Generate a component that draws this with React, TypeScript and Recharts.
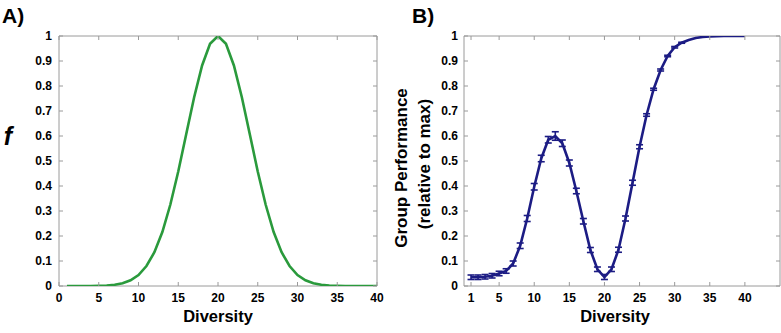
import React from "react";
import { LineChart, Line, XAxis, YAxis, ErrorBar, ReferenceArea } from "recharts";

// x positions shared by both panels
const diversity = [
  1, 2, 3, 4, 5, 6, 7, 8, 9, 10, 11, 12, 13, 14, 15, 16, 17, 18, 19, 20,
  21, 22, 23, 24, 25, 26, 27, 28, 29, 30, 31, 32, 33, 34, 35, 36, 37, 38, 39, 40,
];

// panel A: f vs diversity
const fValues = [
  0, 0, 0, 0, 0.001, 0.002, 0.005, 0.011, 0.023, 0.044, 0.08, 0.135, 0.216, 0.325,
  0.458, 0.607, 0.755, 0.882, 0.969, 1, 0.969, 0.882, 0.755, 0.607, 0.458, 0.325,
  0.216, 0.135, 0.08, 0.044, 0.023, 0.011, 0.005, 0.002, 0.001, 0, 0, 0, 0, 0,
];

// panel B: group performance (relative to max) with error bars
const performance = [
  0.035, 0.035, 0.037, 0.041, 0.05, 0.06, 0.09, 0.161, 0.27, 0.397, 0.51, 0.585,
  0.6, 0.571, 0.492, 0.38, 0.259, 0.144, 0.067, 0.036, 0.067, 0.145, 0.27, 0.413,
  0.557, 0.684, 0.787, 0.864, 0.92, 0.955, 0.973, 0.984, 0.992, 0.996, 0.998,
  0.999, 1, 1, 1, 1,
];
const performanceErr = [
  0.009, 0.009, 0.009, 0.009, 0.009, 0.009, 0.01, 0.011, 0.012, 0.013, 0.013, 0.013,
  0.017, 0.013, 0.012, 0.011, 0.011, 0.01, 0.009, 0.01, 0.009, 0.01, 0.01,
  0.01, 0.008, 0.005, 0.004, 0.004, 0.003, 0.003, 0.002, null, null, null, null,
  null, null, null, null, null,
];

const xTicksA = [0, 5, 10, 15, 20, 25, 30, 35, 40];
const xTicksB = [1, 5, 10, 15, 20, 25, 30, 35, 40];
const yTicks = [0, 0.1, 0.2, 0.3, 0.4, 0.5, 0.6, 0.7, 0.8, 0.9, 1];

const dataA = diversity.map((d, i) => ({ d, f: fValues[i] }));
const dataB = diversity.map((d, i) => ({
  d,
  p: performance[i],
  err: performanceErr[i],
}));

const FONT = '"Liberation Sans", Arial, Helvetica, sans-serif';
const GREEN = "#2a9a3c";
const NAVY = "#1c1c84";
const FRAME = "#9a9a9a";

const tickStyle = { fontSize: 12, fontWeight: 700, fill: "#000", fontFamily: FONT };
const fmt = (v: number) => String(Math.round(v * 10) / 10);
const noTickText = () => <g />;

const panelLetter = (txt: string, x: number) => (
  <text x={x} y={23} fontSize={21} fontWeight={700} fontFamily={FONT} fill="#000">
    {txt}
  </text>
);

const diversityLabel = (cx: number) => () => (
  <text
    x={cx}
    y={322}
    textAnchor="middle"
    fontSize={16.5}
    fontWeight={700}
    fontFamily={FONT}
    fill="#000"
  >
    Diversity
  </text>
);

const fLabel = () => (
  <g>
    {panelLetter("A)", 2)}
    <text
      x={8}
      y={145}
      textAnchor="middle"
      fontSize={25}
      fontWeight={700}
      fontStyle="italic"
      fontFamily={FONT}
      fill="#000"
    >
      f
    </text>
  </g>
);

const perfLabel = () => (
  <g fontFamily={FONT} fontWeight={700} fontSize={17} fill="#000">
    {panelLetter("B)", 22)}
    <text x={17} y={168} textAnchor="middle" transform="rotate(-90, 17, 168)">
      Group Performance
    </text>
    <text x={40} y={164} textAnchor="middle" transform="rotate(-90, 40, 164)">
      (relative to max)
    </text>
  </g>
);

// top and right axes only carry the inward tick marks (negative tickSize)
function frameAxes(xDomain: [number, number], xTicks: number[]) {
  const common = {
    tick: noTickText,
    tickSize: -4,
    tickLine: { stroke: FRAME },
    axisLine: false,
    interval: 0 as const,
    allowDataOverflow: true,
  };
  return [
    <XAxis key="xt" xAxisId="xt" orientation="top" dataKey="d" type="number" domain={xDomain} ticks={xTicks} height={1} {...common} />,
    <YAxis key="yr" yAxisId="yr" orientation="right" type="number" domain={[0, 1]} ticks={yTicks} width={1} {...common} />,
  ];
}

export default function App() {
  return (
    <div
      style={{
        position: "absolute",
        left: 0,
        top: 0,
        width: 781,
        height: 333,
        background: "#fff",
      }}
    >
      <div style={{ position: "absolute", left: 0, top: 0 }}>
        <LineChart width={390} height={333} data={dataA} margin={{ top: 35, right: 12, bottom: 17, left: 0 }}>
          <XAxis
            dataKey="d"
            type="number"
            domain={[0, 40]}
            ticks={xTicksA}
            interval={0}
            axisLine={false}
            tickLine={{ stroke: FRAME }}
            tickSize={-4}
            tickMargin={11}
            height={30}
            tick={tickStyle}
            allowDataOverflow
            label={diversityLabel(218)}
          />
          <YAxis
            type="number"
            domain={[0, 1]}
            ticks={yTicks}
            interval={0}
            axisLine={false}
            tickLine={{ stroke: FRAME }}
            tickSize={-4}
            tickMargin={11}
            width={59}
            tick={tickStyle}
            tickFormatter={fmt}
            allowDataOverflow
            label={fLabel}
          />
          {frameAxes([0, 40], xTicksA)}
          <ReferenceArea x1={0} x2={40} y1={0} y2={1} fill="none" fillOpacity={0} stroke={FRAME} strokeWidth={1} />
          <Line
            xAxisId="xt"
            yAxisId="yr"
            dataKey="f"
            stroke="none"
            strokeOpacity={0}
            dot={false}
            activeDot={false}
            isAnimationActive={false}
          />
          <Line
            dataKey="f"
            type="linear"
            stroke={GREEN}
            strokeWidth={2.6}
            dot={false}
            isAnimationActive={false}
          />
        </LineChart>
      </div>

      <div style={{ position: "absolute", left: 390, top: 0 }}>
        <LineChart width={391} height={333} data={dataB} margin={{ top: 35, right: 0, bottom: 17, left: 0 }}>
          <XAxis
            dataKey="d"
            type="number"
            domain={[0, 45]}
            ticks={xTicksB}
            interval={0}
            axisLine={false}
            tickLine={{ stroke: FRAME }}
            tickSize={-4}
            tickMargin={11}
            height={30}
            tick={tickStyle}
            allowDataOverflow
            label={diversityLabel(225)}
          />
          <YAxis
            type="number"
            domain={[0, 1]}
            ticks={yTicks}
            interval={0}
            axisLine={false}
            tickLine={{ stroke: FRAME }}
            tickSize={-4}
            tickMargin={10}
            width={74}
            tick={tickStyle}
            tickFormatter={fmt}
            allowDataOverflow
            label={perfLabel}
          />
          {frameAxes([0, 45], xTicksB)}
          <ReferenceArea x1={0} x2={45} y1={0} y2={1} fill="none" fillOpacity={0} stroke={FRAME} strokeWidth={1} />
          <Line
            xAxisId="xt"
            yAxisId="yr"
            dataKey="p"
            stroke="none"
            strokeOpacity={0}
            dot={false}
            activeDot={false}
            isAnimationActive={false}
          />
          <Line
            dataKey="p"
            type="linear"
            stroke={NAVY}
            strokeWidth={2.6}
            dot={false}
            isAnimationActive={false}
          >
            <ErrorBar dataKey="err" direction="y" width={3.5} strokeWidth={1.6} stroke={NAVY} />
          </Line>
        </LineChart>
      </div>
    </div>
  );
}
